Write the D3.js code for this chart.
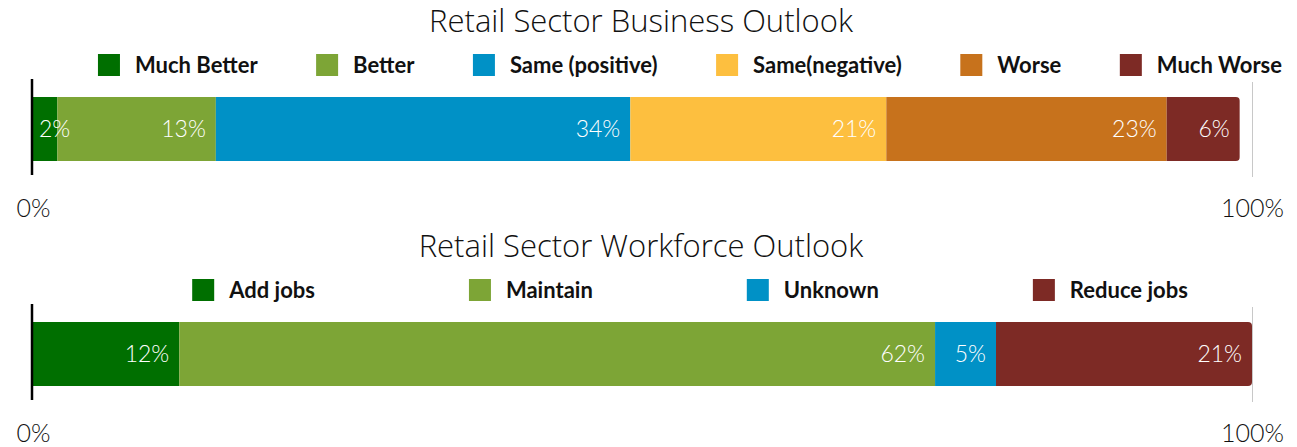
<!DOCTYPE html>
<html>
<head>
<meta charset="utf-8">
<script src="https://cdn.jsdelivr.net/npm/d3@7"></script>
<style>
  body { margin: 0; background: #fff; }
  svg { display: block; font-family: Lato, "Open Sans", sans-serif; }
  .title { font-size: 31px; font-weight: 300; fill: #111; font-family: "Open Sans", Lato, sans-serif; }
  .legend text { font-size: 22px; font-weight: 700; fill: #111; }
  .seg-label { font-size: 23px; font-weight: 300; fill: #fff; }
  .axis text { font-size: 25px; font-weight: 300; fill: #111; font-family: Lato, sans-serif; }
</style>
</head>
<body>
<div id="chart"></div>
<script>
///// Data

const businessCategories = ["Much Better", "Better", "Same (positive)", "Same(negative)", "Worse", "Much Worse"];
const businessValues = [2, 13, 34, 21, 23, 6];

const workforceCategories = ["Add jobs", "Maintain", "Unknown", "Reduce jobs"];
const workforceValues = [12, 62, 5, 21];

const axisTicks = [0, 100];

// palette
const businessColors = ["#006f00", "#7da536", "#0091c6", "#fdbf3f", "#c7721c", "#7d2a25"];
const workforceColors = ["#006f00", "#7da536", "#0091c6", "#7d2a25"];

///// Layout

let width = 1297, height = 447;

let x = d3.scaleLinear().domain([0, 100]).range([33, 1252]);

let svg = d3.select("#chart")
    .append("svg")
    .attr("width", width)
    .attr("height", height);

function drawPanel(id, offsetY, title, categories, values, colors, legendGap) {
    let g = svg.append("g").attr("transform", "translate(0," + offsetY + ")");
    let color = d3.scaleOrdinal().domain(categories).range(colors);

    // title
    g.append("text")
        .attr("class", "title")
        .attr("x", 641)
        .attr("y", 32)
        .attr("text-anchor", "middle")
        .text(title);

    // legend (flow layout, centred)
    let legend = g.append("g").attr("class", "legend");
    let items = legend.selectAll("g")
        .data(categories)
        .enter().append("g");
    items.append("rect")
        .attr("y", 54)
        .attr("width", 22)
        .attr("height", 22)
        .attr("fill", d => color(d));
    items.append("text")
        .attr("x", 37)
        .attr("y", 73)
        .text(d => d);
    let pos = 0;
    items.each(function() {
        let w = 37 + d3.select(this).select("text").node().getComputedTextLength();
        d3.select(this).attr("transform", "translate(" + pos + ",0)");
        pos += w + legendGap;
    });
    let legendWidth = pos - legendGap;
    legend.attr("transform", "translate(" + (690 - legendWidth / 2) + ",0)");

    // stacked bar
    let row = {};
    categories.forEach((c, i) => row[c] = values[i]);
    let series = d3.stack().keys(categories)([row]);
    let total = d3.sum(values);

    let barTop = 97, barH = 64;

    g.append("clipPath")
        .attr("id", "clip-" + id)
        .append("rect")
        .attr("x", x(0) - 10)
        .attr("y", barTop)
        .attr("width", x(total) - x(0) + 10)
        .attr("height", barH)
        .attr("rx", 4);

    let bars = g.append("g").attr("clip-path", "url(#clip-" + id + ")");
    bars.selectAll("rect")
        .data(series)
        .enter().append("rect")
        .attr("x", d => x(d[0][0]))
        .attr("y", barTop)
        .attr("width", d => x(d[0][1]) - x(d[0][0]))
        .attr("height", barH)
        .attr("fill", d => color(d.key));

    // segment labels, right aligned inside each segment
    g.selectAll(".seg-label")
        .data(series)
        .enter().append("text")
        .attr("class", "seg-label")
        .attr("y", barTop + barH / 2 + 8)
        .text(d => (d[0][1] - d[0][0]) + "%")
        .each(function(d) {
            let tw = this.getComputedTextLength();
            let right = x(d[0][1]) - 10;
            let left = Math.max(right - tw, x(d[0][0]) + 6);
            d3.select(this).attr("x", left);
        });

    // 0% and 100% reference lines
    g.append("line")
        .attr("x1", x(0) - 1).attr("x2", x(0) - 1)
        .attr("y1", 79).attr("y2", 175)
        .attr("stroke", "#000")
        .attr("stroke-width", 2.5);
    g.append("line")
        .attr("x1", x(100) + 0.5).attr("x2", x(100) + 0.5)
        .attr("y1", 82).attr("y2", 177)
        .attr("stroke", "#c8c8c8")
        .attr("stroke-width", 1);

    // axis
    g.append("g")
        .attr("class", "axis")
        .attr("transform", "translate(0,196)")
        .call(d3.axisBottom(x).tickValues(axisTicks).tickSize(0).tickFormat(d => d + "%"))
        .call(a => a.select(".domain").remove());
}

drawPanel("business", 0, "Retail Sector Business Outlook",
    businessCategories, businessValues, businessColors, 58.5);
drawPanel("workforce", 225, "Retail Sector Workforce Outlook",
    workforceCategories, workforceValues, workforceColors, 154);
</script>
</body>
</html>
